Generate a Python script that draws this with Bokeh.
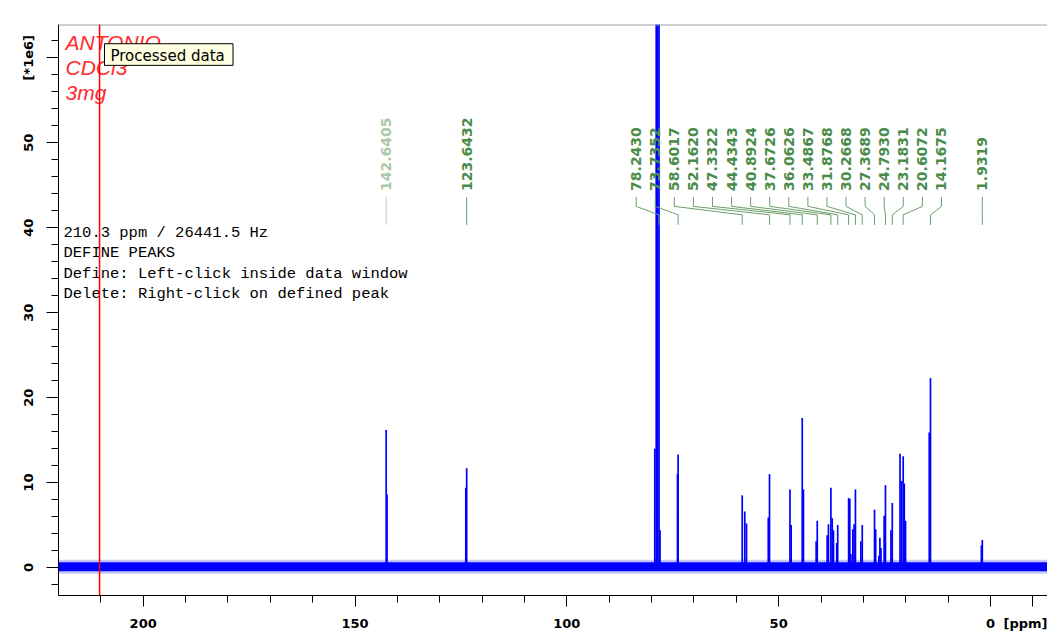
import math
from bokeh.plotting import figure
from bokeh.models import Range1d, SingleIntervalTicker, FixedTicker, Span
from bokeh.core.properties import value
from bokeh.embed import file_html
from bokeh.resources import INLINE

# ---------------- data ----------------
peak_ppm = [142.6405, 142.45, 123.6432, 123.85,
            79.24, 78.90, 78.57, 78.2430, 78.00,
            73.7352, 73.88,
            58.6017, 58.00, 57.60,
            52.1620, 52.45,
            47.3322, 47.05,
            44.4343, 44.15,
            40.8924, 41.15,
            38.55, 38.25, 37.6726, 37.36, 37.06,
            36.0626, 36.30,
            33.4867, 33.20, 32.95,
            31.8768, 32.20, 32.50,
            30.2668, 30.60,
            27.3689, 27.10,
            26.10, 25.85, 26.35,
            24.7930, 25.10,
            23.1831, 23.50,
            21.35, 21.00, 20.6072, 20.35, 20.05,
            14.1675, 14.45,
            1.9319, 2.15]
peak_height = [16.2, 8.6, 11.7, 9.4,
               14.0, 95.0, 95.0, 95.0, 4.4,
               13.3, 11.0,
               8.5, 6.6, 5.2,
               11.0, 5.9,
               9.2, 5.0,
               17.6, 9.2,
               5.5, 3.1,
               3.8, 5.1, 9.4, 5.8, 4.4,
               5.0, 2.9,
               8.2, 8.1, 1.6,
               9.2, 5.1, 4.5,
               5.0, 3.1,
               6.8, 4.5,
               3.5, 2.3, 1.4,
               9.7, 6.1,
               7.6, 4.4,
               13.4, 10.2, 13.1, 9.9, 5.5,
               22.3, 15.9,
               3.25, 2.6]
assert len(peak_ppm) == len(peak_height)

label_ppm = [142.6405, 123.6432, 78.2430, 73.7352, 58.6017, 52.1620, 47.3322,
             44.4343, 40.8924, 37.6726, 36.0626, 33.4867, 31.8768, 30.2668,
             27.3689, 24.7930, 23.1831, 20.6072, 14.1675, 1.9319]
label_group_sizes = [1, 1, 17, 1]
pale_labels = [142.6405]

x_major_ticks = [200, 150, 100, 50, 0]
x_minor_step = 10
x_unit_tick = -10
y_tick_interval = 10
cursor_ppm = 210.3
sample_notes = ["ANTONIO", "CDCl3", "3mg"]
status_lines = ["210.3 ppm / 26441.5 Hz",
                "DEFINE PEAKS",
                "Define: Left-click inside data window",
                "Delete: Right-click on defined peak"]
tooltip_text = "Processed data"
y_axis_title = "[*1e6]"
x_axis_title = "[ppm]"

# ---------------- geometry ----------------
PX_PER_PPM = 4.2365
PX_PER_UNIT = 8.526
W, H = 1047, 633
FRAME_LEFT, FRAME_TOP, FRAME_BOTTOM = 58, 24, 597
X_START = 219.99
Y_END = 63.92
X_END = X_START - (W - FRAME_LEFT) / PX_PER_PPM
Y_START = Y_END - (FRAME_BOTTOM - FRAME_TOP) / PX_PER_UNIT


def xd(px):
    return X_START - (px - FRAME_LEFT) / PX_PER_PPM


def yd(py):
    return Y_END - (py - FRAME_TOP) / PX_PER_UNIT


p = figure(width=W, height=H, output_backend="svg", toolbar_location=None,
           x_range=Range1d(X_START, X_END), y_range=Range1d(Y_START, Y_END),
           min_border_left=FRAME_LEFT, min_border_right=0, min_border_top=FRAME_TOP,
           min_border_bottom=H - FRAME_BOTTOM)
p.background_fill_color = "white"
p.border_fill_color = "white"
p.outline_line_color = None
p.grid.visible = False

# axes
for ax in (p.xaxis[0], p.yaxis[0]):
    ax.axis_line_color = "black"
    ax.major_tick_line_color = "black"
    ax.minor_tick_line_color = "black"
    ax.major_tick_in = 0
    ax.minor_tick_in = 0
    ax.minor_tick_out = 7
    ax.major_label_text_font = "DejaVu Sans"
    ax.major_label_text_font_style = "bold"
    ax.major_label_text_font_size = "13px"
    ax.major_label_text_color = "black"
x_minor = [v for v in range(x_unit_tick, int(X_START) + 1, x_minor_step)
           if v not in x_major_ticks and v != x_unit_tick]
p.xaxis.ticker = FixedTicker(ticks=x_major_ticks + [x_unit_tick], minor_ticks=x_minor)
p.xaxis.major_label_overrides = {x_unit_tick: x_axis_title}
p.yaxis.ticker = SingleIntervalTicker(interval=y_tick_interval, num_minor_ticks=5)
p.xaxis.major_tick_out = 11
p.yaxis.major_tick_out = 12
p.xaxis.major_label_standoff = 9
p.yaxis.major_label_standoff = 10
p.yaxis.major_label_orientation = "vertical"
p.yaxis.major_label_overrides = {60: y_axis_title}

# top border of the data window
p.add_layout(Span(location=Y_END, dimension="width", line_color="#a0a0a0", line_width=2))

# spectrum: baseline noise band and peaks
p.segment(x0=[X_START], y0=[0.1], x1=[X_END], y1=[0.1], line_color="#0000ff",
          line_width=14, line_alpha=0.22)
p.segment(x0=[X_START], y0=[0.1], x1=[X_END], y1=[0.1], line_color="#0000ff",
          line_width=9)
p.segment(x0=peak_ppm, y0=[0] * len(peak_ppm), x1=peak_ppm, y1=peak_height,
          line_color="#0000ff", line_width=1.7)

# peak label layout: groups of labels spread evenly around their peaks
GAP = 19.08 / PX_PER_PPM
SHIFT = 1.4
label_x = []
i = 0
for n in label_group_sizes:
    g = label_ppm[i:i + n]
    i += n
    if n == 1:
        label_x.append(g[0])
    else:
        c = (g[0] + g[-1]) / 2 + SHIFT
        label_x += [c + (n - 1) / 2 * GAP - k * GAP for k in range(n)]

label_colors = ["#a9c9a9" if v in pale_labels else "#4a8c4a" for v in label_ppm]
lead_colors = ["#b8d2b8" if v in pale_labels else "#6a9e6a" for v in label_ppm]
xs = [[lx, lx, pv, pv] for lx, pv in zip(label_x, label_ppm)]
ys = [[yd(197), yd(206.5), yd(215), yd(225)] for _ in label_ppm]
p.multi_line(xs=xs, ys=ys, line_color=lead_colors, line_width=1)
p.text(x=label_x, y=[yd(191)] * len(label_x),
       text=["%.4f" % v for v in label_ppm], angle=math.pi / 2,
       text_align="left", text_baseline="middle",
       text_font=value("DejaVu Sans"), text_font_style="bold",
       text_font_size="14px", text_color=label_colors)

# sample notes (red italic)
p.text(x=[xd(65)] * 3, y=[yd(42), yd(67.5), yd(92.5)], text=sample_notes,
       text_font=value("Liberation Sans"), text_font_style="italic",
       text_font_size="21px", text_color="#ff2b2b",
       text_align="left", text_baseline="alphabetic")

# status text (monospace)
p.text(x=[xd(63)] * len(status_lines),
       y=[yd(232.8 + 20.6 * k) for k in range(len(status_lines))],
       text=status_lines, text_font=value("Liberation Mono"),
       text_font_size="15.5px", text_color="black",
       text_align="left", text_baseline="alphabetic")

# tooltip box
p.quad(left=[xd(104)], right=[xd(232.5)], top=[yd(43.3)], bottom=[yd(65)],
       fill_color="#ffffe1", line_color="black", line_width=1)
p.text(x=[xd(110)], y=[yd(55.3)], text=[tooltip_text],
       text_font=value("DejaVu Sans"), text_font_size="15px", text_color="black",
       text_align="left", text_baseline="alphabetic")

# cursor line
p.add_layout(Span(location=cursor_ppm, dimension="height", line_color="#ff0000",
                  line_width=1.5))

open("out.html", "w").write(file_html(p, INLINE))
